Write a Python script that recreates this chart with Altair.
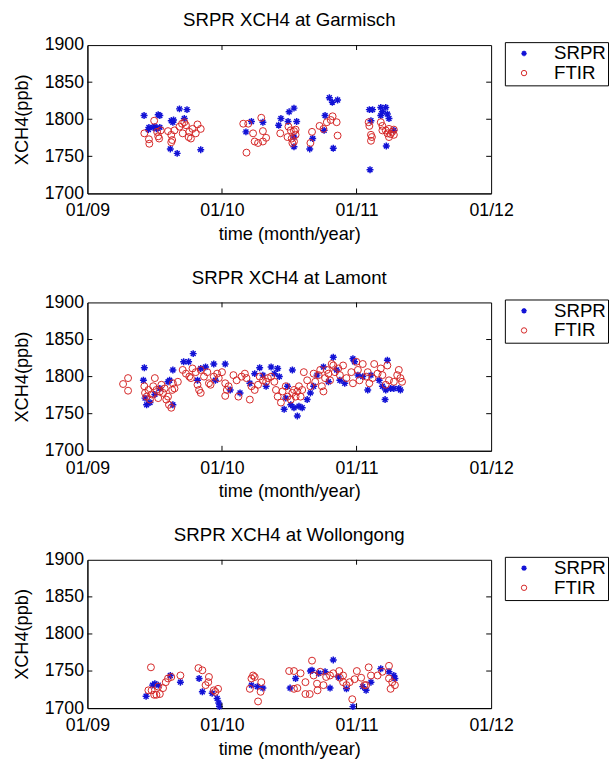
import altair as alt
import pandas as pd

SERIES = ["SRPR", "FTIR"]
X_TICKS = [2009, 2010, 2011, 2012]
Y_TICKS = [1700, 1750, 1800, 1850, 1900]
INNER_Y = [1750, 1800, 1850]
INNER_X = [2010, 2011]

# (decimal year, XCH4 ppb)
garmisch_srpr = [
    (2009.421, 1805), (2009.457, 1789), (2009.453, 1786), (2009.489, 1789), (2009.501, 1790),
    (2009.526, 1806), (2009.538, 1805), (2009.513, 1787), (2009.538, 1789), (2009.623, 1798),
    (2009.635, 1796), (2009.640, 1799), (2009.616, 1760), (2009.667, 1754), (2009.684, 1814),
    (2009.740, 1813), (2009.720, 1801), (2009.842, 1759), (2010.219, 1797), (2010.178, 1783),
    (2010.304, 1796), (2010.438, 1801), (2010.421, 1792), (2010.491, 1797), (2010.499, 1810),
    (2010.535, 1815), (2010.555, 1797), (2010.535, 1763), (2010.535, 1776), (2010.652, 1760),
    (2010.674, 1774), (2010.766, 1805), (2010.798, 1829), (2010.820, 1823), (2010.859, 1826),
    (2010.827, 1761), (2010.759, 1785), (2011.095, 1813), (2011.119, 1813), (2011.100, 1732),
    (2011.107, 1798), (2011.180, 1816), (2011.192, 1810), (2011.217, 1816), (2011.229, 1807),
    (2011.180, 1805), (2011.241, 1801), (2011.277, 1785), (2011.221, 1764),
]
garmisch_ftir = [
    (2009.423, 1781), (2009.457, 1773), (2009.460, 1767), (2009.496, 1798), (2009.518, 1783),
    (2009.526, 1777), (2009.533, 1774), (2009.545, 1785), (2009.599, 1784), (2009.623, 1779),
    (2009.630, 1772), (2009.623, 1769), (2009.647, 1785), (2009.684, 1790), (2009.703, 1794),
    (2009.720, 1796), (2009.732, 1792), (2009.708, 1781), (2009.757, 1783), (2009.752, 1776),
    (2009.769, 1774), (2009.781, 1787), (2009.805, 1781), (2009.818, 1793), (2009.842, 1787),
    (2010.158, 1794), (2010.195, 1794), (2010.182, 1755), (2010.231, 1781), (2010.243, 1770),
    (2010.268, 1768), (2010.304, 1770), (2010.292, 1802), (2010.304, 1784), (2010.328, 1775),
    (2010.433, 1781), (2010.487, 1776), (2010.494, 1790), (2010.511, 1785), (2010.535, 1784),
    (2010.547, 1786), (2010.518, 1774), (2010.535, 1770), (2010.523, 1768), (2010.547, 1779),
    (2010.669, 1783), (2010.657, 1768), (2010.725, 1791), (2010.754, 1787), (2010.779, 1796),
    (2010.808, 1799), (2010.822, 1804), (2010.852, 1796), (2010.859, 1778), (2011.090, 1796),
    (2011.095, 1791), (2011.107, 1779), (2011.114, 1776), (2011.107, 1771), (2011.180, 1796),
    (2011.192, 1791), (2011.192, 1785), (2011.217, 1785), (2011.241, 1787), (2011.229, 1781),
    (2011.253, 1780), (2011.265, 1783), (2011.277, 1779), (2011.241, 1776), (2011.277, 1786),
]
lamont_srpr = [
    (2009.423, 1812), (2009.416, 1795), (2009.440, 1762), (2009.428, 1771), (2009.465, 1765),
    (2009.501, 1776), (2009.538, 1784), (2009.611, 1795), (2009.599, 1793), (2009.635, 1762),
    (2009.635, 1809), (2009.715, 1820), (2009.752, 1820), (2009.786, 1831), (2009.818, 1795),
    (2009.842, 1811), (2009.878, 1813), (2009.939, 1817), (2009.951, 1795), (2010.024, 1817),
    (2010.061, 1782), (2010.134, 1778), (2010.207, 1791), (2010.243, 1804), (2010.280, 1812),
    (2010.304, 1802), (2010.328, 1787), (2010.365, 1813), (2010.389, 1804), (2010.414, 1811),
    (2010.426, 1800), (2010.462, 1756), (2010.474, 1771), (2010.487, 1787), (2010.523, 1809),
    (2010.511, 1762), (2010.535, 1758), (2010.560, 1747), (2010.572, 1760), (2010.596, 1758),
    (2010.633, 1769), (2010.657, 1778), (2010.681, 1787), (2010.706, 1802), (2010.754, 1813),
    (2010.791, 1793), (2010.827, 1826), (2010.852, 1809), (2010.876, 1795), (2010.912, 1791),
    (2010.973, 1824), (2010.985, 1820), (2011.010, 1802), (2011.046, 1800), (2011.083, 1782),
    (2011.107, 1802), (2011.168, 1795), (2011.192, 1787), (2011.217, 1782), (2011.229, 1822),
    (2011.212, 1769), (2011.253, 1784), (2011.277, 1784), (2011.314, 1784), (2011.326, 1782),
]
lamont_ftir = [
    (2009.265, 1790), (2009.302, 1798), (2009.302, 1781), (2009.423, 1787), (2009.428, 1778),
    (2009.440, 1773), (2009.453, 1782), (2009.465, 1769), (2009.477, 1776), (2009.489, 1787),
    (2009.501, 1798), (2009.513, 1782), (2009.526, 1771), (2009.538, 1780), (2009.550, 1789),
    (2009.562, 1778), (2009.574, 1784), (2009.586, 1769), (2009.599, 1773), (2009.606, 1762),
    (2009.623, 1758), (2009.630, 1782), (2009.635, 1791), (2009.647, 1784), (2009.672, 1793),
    (2009.708, 1809), (2009.732, 1804), (2009.757, 1800), (2009.769, 1798), (2009.781, 1811),
    (2009.805, 1806), (2009.818, 1789), (2009.830, 1782), (2009.842, 1778), (2009.842, 1809),
    (2009.866, 1800), (2009.891, 1806), (2009.903, 1791), (2009.915, 1789), (2009.939, 1800),
    (2009.964, 1804), (2009.976, 1798), (2010.000, 1806), (2010.024, 1791), (2010.036, 1782),
    (2010.024, 1774), (2010.049, 1787), (2010.085, 1802), (2010.109, 1795), (2010.122, 1773),
    (2010.146, 1800), (2010.170, 1804), (2010.182, 1798), (2010.207, 1769), (2010.219, 1787),
    (2010.243, 1782), (2010.268, 1789), (2010.280, 1800), (2010.304, 1795), (2010.328, 1793),
    (2010.341, 1798), (2010.365, 1800), (2010.389, 1793), (2010.401, 1782), (2010.414, 1773),
    (2010.438, 1765), (2010.450, 1780), (2010.474, 1787), (2010.487, 1773), (2010.511, 1769),
    (2010.523, 1778), (2010.535, 1782), (2010.547, 1773), (2010.560, 1780), (2010.572, 1787),
    (2010.584, 1773), (2010.596, 1782), (2010.608, 1806), (2010.633, 1795), (2010.657, 1787),
    (2010.681, 1804), (2010.693, 1793), (2010.718, 1802), (2010.730, 1809), (2010.742, 1787),
    (2010.754, 1780), (2010.766, 1798), (2010.779, 1809), (2010.791, 1804), (2010.803, 1795),
    (2010.815, 1817), (2010.827, 1815), (2010.839, 1806), (2010.864, 1811), (2010.876, 1802),
    (2010.900, 1815), (2010.925, 1798), (2010.961, 1806), (2010.973, 1791), (2010.998, 1820),
    (2011.010, 1809), (2011.022, 1795), (2011.046, 1817), (2011.071, 1800), (2011.083, 1806),
    (2011.095, 1791), (2011.119, 1798), (2011.131, 1817), (2011.156, 1804), (2011.180, 1811),
    (2011.192, 1802), (2011.217, 1789), (2011.229, 1815), (2011.241, 1795), (2011.277, 1793),
    (2011.302, 1802), (2011.314, 1809), (2011.326, 1798), (2011.338, 1793),
]
wollongong_srpr = [
    (2009.436, 1716), (2009.484, 1731), (2009.501, 1733), (2009.526, 1731), (2009.616, 1744),
    (2009.691, 1735), (2009.830, 1740), (2009.854, 1722), (2009.927, 1720), (2009.964, 1713),
    (2009.976, 1707), (2009.981, 1702), (2010.219, 1731), (2010.263, 1729), (2010.304, 1727),
    (2010.506, 1727), (2010.547, 1740), (2010.657, 1750), (2010.669, 1751), (2010.718, 1747),
    (2010.766, 1749), (2010.803, 1727), (2010.827, 1765), (2010.864, 1742), (2010.925, 1726),
    (2010.973, 1702), (2011.046, 1729), (2011.071, 1724), (2011.107, 1735), (2011.180, 1753),
    (2011.241, 1749), (2011.277, 1744), (2011.285, 1740),
]
wollongong_ftir = [
    (2009.472, 1755), (2009.453, 1724), (2009.477, 1724), (2009.496, 1718), (2009.513, 1718),
    (2009.538, 1719), (2009.526, 1729), (2009.562, 1727), (2009.582, 1735), (2009.599, 1740),
    (2009.623, 1742), (2009.691, 1744), (2009.825, 1754), (2009.854, 1751), (2009.878, 1731),
    (2009.903, 1742), (2009.898, 1735), (2009.939, 1724), (2009.951, 1722), (2009.971, 1726),
    (2010.207, 1726), (2010.219, 1740), (2010.231, 1744), (2010.243, 1742), (2010.268, 1709),
    (2010.287, 1722), (2010.292, 1735), (2010.499, 1750), (2010.535, 1750), (2010.535, 1726),
    (2010.560, 1727), (2010.584, 1747), (2010.620, 1735), (2010.620, 1719), (2010.652, 1719),
    (2010.669, 1764), (2010.681, 1744), (2010.706, 1733), (2010.710, 1724), (2010.730, 1749),
    (2010.754, 1731), (2010.774, 1742), (2010.803, 1744), (2010.827, 1747), (2010.871, 1750),
    (2010.876, 1741), (2010.900, 1744), (2010.900, 1735), (2010.925, 1731), (2010.949, 1735),
    (2010.968, 1712), (2010.985, 1739), (2011.002, 1750), (2011.034, 1741), (2011.058, 1731),
    (2011.071, 1731), (2011.090, 1755), (2011.107, 1744), (2011.156, 1744), (2011.192, 1749),
    (2011.241, 1757), (2011.241, 1740), (2011.253, 1726), (2011.265, 1735), (2011.285, 1731),
]

BLUE = "#1212d6"
RED = "#d42626"
ASTERISK = "M-1,0L1,0M0,-1L0,1M-0.7,-0.7L0.7,0.7M-0.7,0.7L0.7,-0.7"
W, H = 411, 151
FONT = "Liberation Sans"
TICK = 5


def panel(name, srpr, ftir):
    rows = [{"t": t, "v": v, "series": "SRPR"} for t, v in srpr]
    rows += [{"t": t, "v": v, "series": "FTIR"} for t, v in ftir]
    df = pd.DataFrame(rows)
    df["order"] = range(len(df))

    x = alt.X(
        "t:Q",
        scale=alt.Scale(domain=[2009, 2012], nice=False, zero=False),
        axis=alt.Axis(values=X_TICKS, labelExpr="'01/' + slice(toString(datum.value), 2)",
                      title="time (month/year)", grid=False, ticks=False, labelFlush=False,
                      labelPadding=9, titlePadding=5),
    )
    y = alt.Y(
        "v:Q",
        scale=alt.Scale(domain=[1700, 1900], nice=False, zero=False),
        axis=alt.Axis(values=Y_TICKS, format="d", title="XCH4(ppb)", grid=False, ticks=False,
                      labelPadding=4, titlePadding=13),
    )
    legend = alt.Legend(
        title=None, orient="none", legendX=425, legendY=-3,
        strokeColor="black", fillColor="white", padding=2,
        labelFont=FONT, labelFontSize=19, labelColor="black", labelOffset=21,
        labelExpr="datum.label + '          '",
        symbolSize=30, symbolStrokeWidth=1.2, symbolOffset=8, rowPadding=0,
    )
    pts = alt.Chart(df).mark_point(filled=False, size=50, opacity=1).encode(
        x=x, y=y,
        color=alt.Color("series:N", scale=alt.Scale(domain=SERIES, range=[BLUE, RED]), legend=legend),
        shape=alt.Shape("series:N", scale=alt.Scale(domain=SERIES, range=[ASTERISK, "circle"]), legend=legend),
        strokeWidth=alt.StrokeWidth("series:N", scale=alt.Scale(type="ordinal", domain=SERIES, range=[1.5, 1.0]), legend=None),
        order="order:Q",
    )
    yt = pd.DataFrame({"v": INNER_Y})
    xt = pd.DataFrame({"t": INNER_X})
    left = alt.Chart(yt).mark_rule(color="black").encode(y=y, x=alt.value(0), x2=alt.value(TICK))
    right = alt.Chart(yt).mark_rule(color="black").encode(y=y, x=alt.value(W - TICK), x2=alt.value(W))
    top = alt.Chart(xt).mark_rule(color="black").encode(x=x, y=alt.value(0), y2=alt.value(TICK))
    bottom = alt.Chart(xt).mark_rule(color="black").encode(x=x, y=alt.value(H - TICK), y2=alt.value(H))
    return alt.layer(pts, left, right, top, bottom).properties(
        width=W, height=H,
        title=alt.TitleParams(f"SRPR XCH4 at {name}", frame="group", anchor="middle", offset=6),
    )


chart = alt.vconcat(
    panel("Garmisch", garmisch_srpr, garmisch_ftir),
    panel("Lamont", lamont_srpr, lamont_ftir),
    panel("Wollongong", wollongong_srpr, wollongong_ftir),
    spacing=25,
).resolve_scale(color="independent", shape="independent", strokeWidth="independent").resolve_legend(
    color="independent", shape="independent"
).properties(
    padding={"left": 12, "top": 4, "right": 0, "bottom": 0}, background="white"
).configure_view(stroke="black", strokeWidth=1).configure_axis(
    domainColor="black", domainWidth=1, labelColor="black", titleColor="black",
    labelFont=FONT, titleFont=FONT, labelFontSize=18, titleFontSize=18.5, titleFontWeight="normal",
).configure_title(font=FONT, fontSize=19, fontWeight="normal", color="black")

chart.save("out.html", embed_options={"renderer": "svg", "actions": False})
